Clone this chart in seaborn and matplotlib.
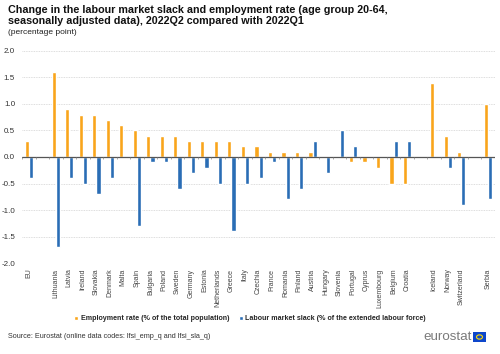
import matplotlib
matplotlib.use("Agg")
import matplotlib.pyplot as plt
import seaborn as sns
import pandas as pd
import numpy as np
from matplotlib.patches import Rectangle, Circle

countries = ["EU", "Lithuania", "Latvia", "Ireland", "Slovakia", "Denmark", "Malta", "Spain",
             "Bulgaria", "Poland", "Sweden", "Germany", "Estonia", "Netherlands", "Greece",
             "Italy", "Czechia", "France", "Romania", "Finland", "Austria", "Hungary",
             "Slovenia", "Portugal", "Cyprus", "Luxembourg", "Belgium", "Croatia",
             "Iceland", "Norway", "Switzerland", "Serbia"]
employment = [0.3, 1.6, 0.9, 0.8, 0.8, 0.7, 0.6, 0.5, 0.4, 0.4, 0.4, 0.3, 0.3, 0.3, 0.3,
              0.2, 0.2, 0.1, 0.1, 0.1, 0.1, 0.0, 0.0, -0.1, -0.1, -0.2, -0.5, -0.5,
              1.4, 0.4, 0.1, 1.0]
slack = [-0.4, -1.7, -0.4, -0.5, -0.7, -0.4, 0.0, -1.3, -0.1, -0.1, -0.6, -0.3, -0.2, -0.5,
         -1.4, -0.5, -0.4, -0.1, -0.8, -0.6, 0.3, -0.3, 0.5, 0.2, 0.0, 0.0, 0.3, 0.3,
         0.0, -0.2, -0.9, -0.8]
gap_after = ["EU", "Croatia", "Switzerland"]
series_names = ["Employment rate (% of the total population)",
                "Labour market slack (% of the extended labour force)"]
colors = ["#F9A51B", "#2A6DB5"]
yticks = [-2.0, -1.5, -1.0, -0.5, 0.0, 0.5, 1.0, 1.5, 2.0]

# slot order with empty spacer categories
order = []
k = 0
for c in countries:
    order.append(c)
    if c in gap_after:
        k += 1
        order.append(" " * k)

df = pd.DataFrame({
    "country": countries * 2,
    "value": employment + slack,
    "series": [series_names[0]] * len(countries) + [series_names[1]] * len(countries),
})

sns.set_theme(style="white")
plt.rcParams["font.family"] = ["Liberation Sans", "DejaVu Sans"]

fig = plt.figure(figsize=(5.0, 3.54), dpi=100)
ax = fig.add_axes([0.044, 0.257, 0.946, 0.599])

sns.barplot(data=df, x="country", y="value", hue="series", order=order,
            hue_order=series_names, palette=dict(zip(series_names, colors)),
            width=0.62, ax=ax, saturation=1, legend=True)

ax.set_ylim(-2.0, 2.0)
ax.set_xlim(-0.5, len(order) - 0.5)
ax.set_yticks(yticks)
ax.set_yticklabels([f"{v:.1f}" for v in yticks], fontsize=5.8, color="#333333")
ax.yaxis.grid(True, color="#d2d2d2", linestyle=(0, (1, 1)), linewidth=0.6)
ax.set_axisbelow(True)
for s in ax.spines.values():
    s.set_visible(False)
ax.axhline(0, color="#555555", linewidth=0.9, zorder=3)
ax.vlines(np.arange(-0.5, len(order) - 0.4, 1.0), -0.04, 0.0, color="#888888",
          linewidth=0.5, zorder=3)
ax.set_xlabel("")
ax.set_ylabel("")
ax.set_xticks(range(len(order)))
ax.set_xticklabels([o if o.strip() else "" for o in order], rotation=90,
                   fontsize=5, color="#444444")
ax.tick_params(axis="x", length=0, pad=4)
ax.tick_params(axis="y", length=0, pad=5)

handles, labels = ax.get_legend_handles_labels()
ax.get_legend().remove()
fig.legend(handles, labels, loc="center", bbox_to_anchor=(0.5, 1 - 319 / 354), ncol=2,
           frameon=False, handlelength=0.55, handleheight=0.55, handletextpad=0.35,
           columnspacing=1.3, prop={"size": 5.15, "weight": "bold"})

fig.text(8 / 500, 1 - 5 / 354,
         "Change in the labour market slack and employment rate (age group 20-64,\n"
         "seasonally adjusted data), 2022Q2 compared with 2022Q1",
         fontsize=7.75, fontweight="bold", va="top", ha="left", color="#111111",
         linespacing=1.12)
fig.text(8 / 500, 1 - 29 / 354, "(percentage point)", fontsize=6.0, va="top",
         ha="left", color="#222222")
fig.text(8 / 500, 1 - 337 / 354,
         "Source: Eurostat (online data codes: lfsi_emp_q and lfsi_sla_q)",
         fontsize=5.2, va="center", ha="left", color="#333333")

# eurostat logo
fig.text(472 / 500, 1 - 337 / 354, "eurostat", fontsize=9.6, va="center", ha="right",
         color="#7a7a7a")
fig.patches.append(Rectangle((473 / 500, 1 - 342 / 354), 13 / 500, 10 / 354,
                             transform=fig.transFigure, facecolor="#0E47CB",
                             edgecolor="none"))
fig.patches.append(Circle((479.5 / 500, 1 - 337 / 354), 3.0 / 500,
                          transform=fig.transFigure, facecolor="none",
                          edgecolor="#FFDD00", linewidth=0.8))

fig.savefig("out.png", dpi=100)
